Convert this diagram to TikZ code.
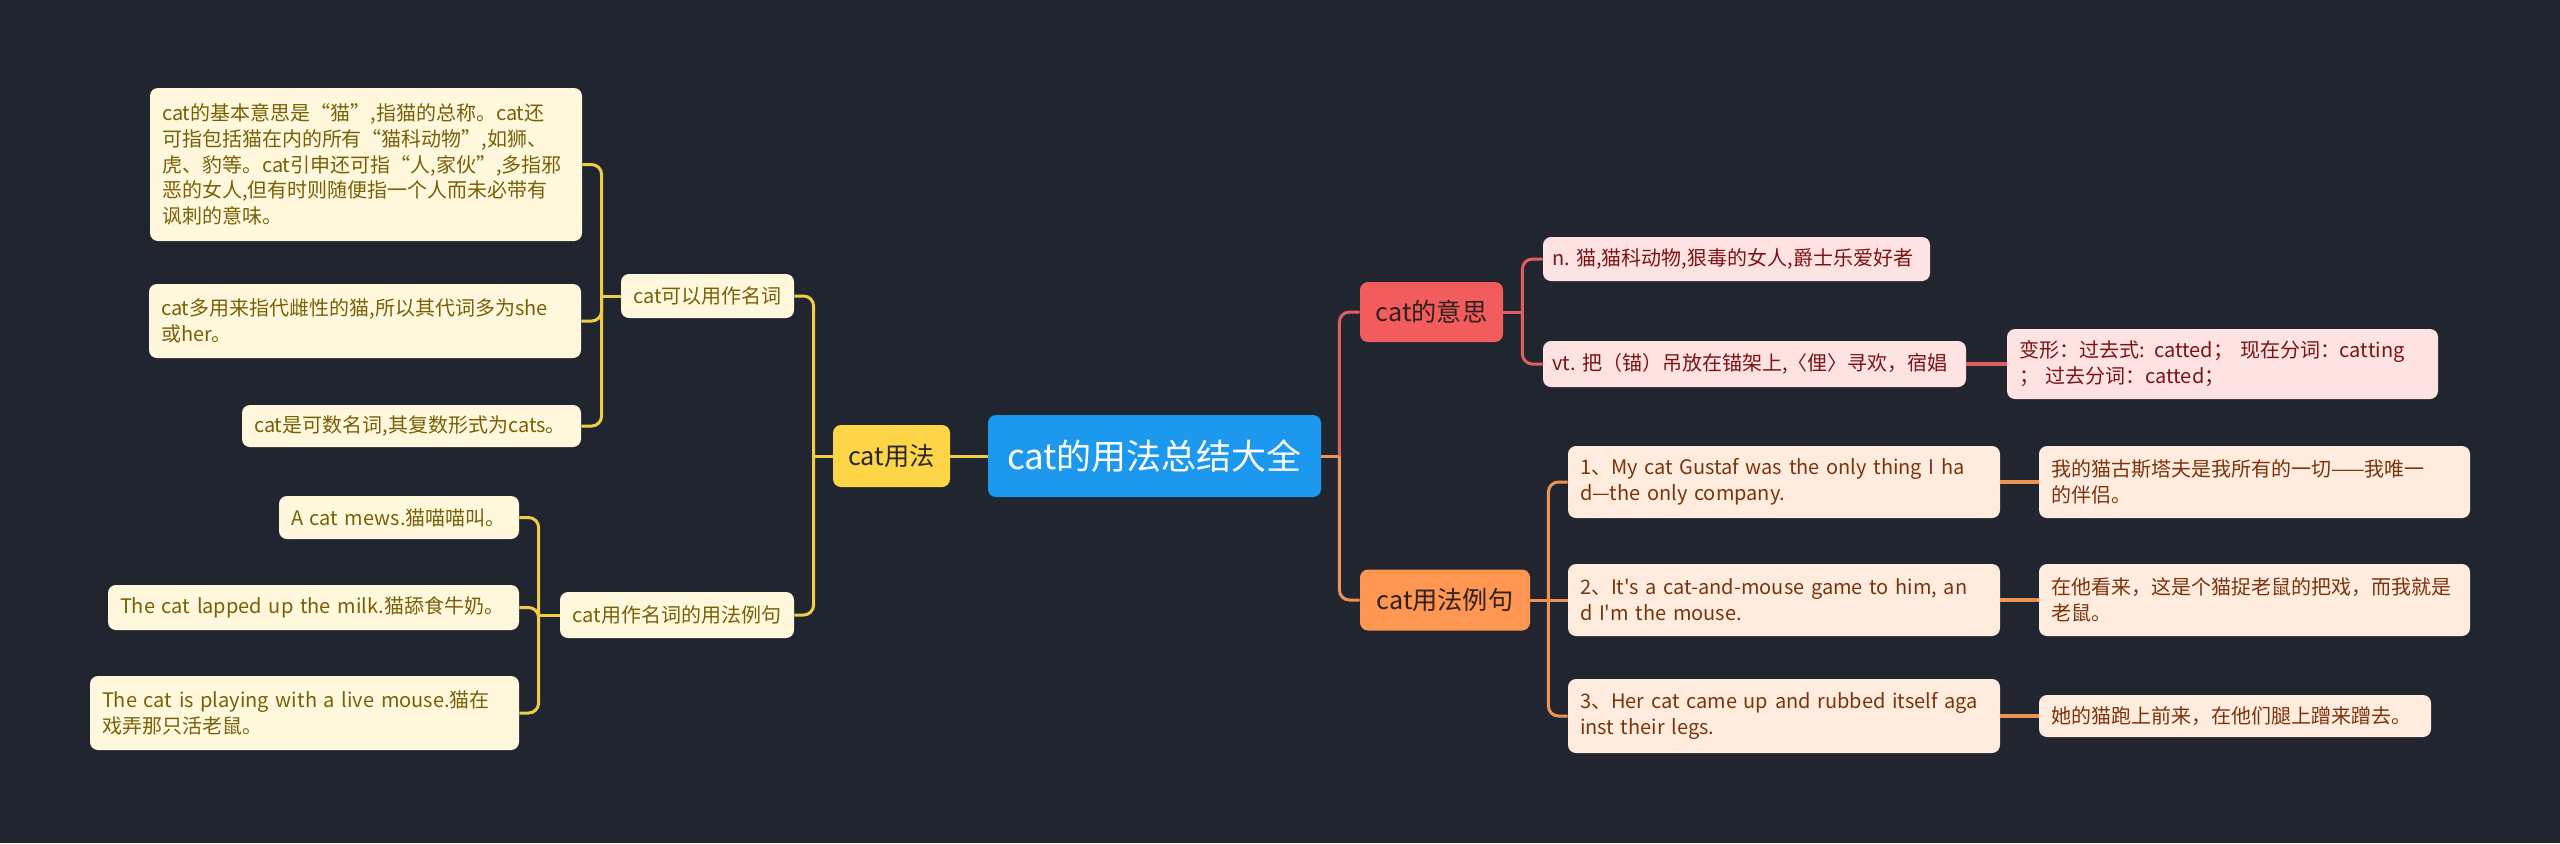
\documentclass[tikz,border=0pt]{standalone}
\usepackage{fontspec}
\newfontfamily\cjk{Noto Sans CJK SC}
\usetikzlibrary{calc}
\definecolor{bg}{RGB}{33,37,48}
\definecolor{rootfill}{RGB}{28,153,238}
\definecolor{yfill}{RGB}{255,213,72}
\definecolor{yleaf}{RGB}{255,248,221}
\definecolor{ytext}{RGB}{120,96,8}
\definecolor{yline}{RGB}{240,205,70}
\definecolor{rfill}{RGB}{242,92,92}
\definecolor{rleaf}{RGB}{255,226,226}
\definecolor{rtext}{RGB}{122,20,20}
\definecolor{rline}{RGB}{226,94,94}
\definecolor{ofill}{RGB}{255,150,82}
\definecolor{oleaf}{RGB}{255,236,222}
\definecolor{otext}{RGB}{122,52,12}
\definecolor{oline}{RGB}{238,148,82}
\definecolor{darktext}{RGB}{45,32,30}
\tikzset{
  box/.style={rounded corners=4pt, inner ysep=0pt, inner xsep=6pt, align=left,
    font=\cjk\fontsize{10}{12.9}\selectfont},
  cbox/.style={rounded corners=4pt, inner sep=0pt, align=center},
  leafY/.style={box, fill=yleaf, text=ytext},
  midY/.style={cbox, fill=yleaf, text=ytext, font=\cjk\fontsize{10}{12.9}\selectfont},
  leafR/.style={box, fill=rleaf, text=rtext},
  leafO/.style={box, fill=oleaf, text=otext},
  branch/.style={cbox, font=\cjk\fontsize{12.6}{15}\selectfont, text=darktext},
  lineY/.style={draw=yline, line width=1.5pt},
  lineR/.style={draw=rline, line width=1.5pt},
  lineO/.style={draw=oline, line width=1.5pt},
  thickR/.style={draw=rline, line width=2pt},
  thickO/.style={draw=oline, line width=2pt},
  elbow/.style={rounded corners=5pt}
}
\begin{document}
\begin{tikzpicture}[x=0.5pt,y=-0.5pt]
\fill[bg] (0,0) rectangle (2560,843);
\useasboundingbox (0,0) rectangle (2560,843);

% root and branches
\node[cbox, fill=rootfill, text=white, font=\cjk\fontsize{17.5}{20}\selectfont,
  minimum width=166.5pt, minimum height=41pt] (root) at (1154.5,456) {cat的用法总结大全};
\node[branch, fill=yfill, text=black!85, minimum width=58.5pt, minimum height=31pt] (cusage) at (891.5,456) {cat用法};
\node[branch, fill=rfill, minimum width=71.5pt, minimum height=30pt] (cmean) at (1431.5,312) {cat的意思};
\node[branch, fill=ofill, minimum width=85pt, minimum height=30.5pt] (cex) at (1445,600) {cat用法例句};

% left side
\node[midY, minimum width=86.5pt, minimum height=22pt] (noun) at (707.5,296) {cat可以用作名词};
\node[midY, minimum width=117pt, minimum height=23pt] (nounex) at (677,615) {cat用作名词的用法例句};

\node[leafY, text width=204pt, minimum height=76.5pt] (la) at (366,164.5)
  {cat的基本意思是“猫”,指猫的总称。cat还\\可指包括猫在内的所有“猫科动物”,如狮、\\虎、豹等。cat引申还可指“人,家伙”,多指邪\\恶的女人,但有时则随便指一个人而未必带有\\讽刺的意味。};
\node[leafY, text width=204pt, minimum height=37pt] (lb) at (365,321)
  {cat多用来指代雌性的猫,所以其代词多为she\\或her。};
\node[leafY, text width=157.5pt, minimum height=21pt] (lc) at (411.5,426)
  {cat是可数名词,其复数形式为cats。};

\node[leafY, text width=108pt, minimum height=21.5pt] (mews) at (399,517.5)
  {A cat mews.猫喵喵叫。};
\node[leafY, text width=193.5pt, minimum height=22.5pt] (lapped) at (313.5,607.5)
  {The cat lapped up the milk.猫舔食牛奶。};
\node[leafY, text width=202.5pt, minimum height=37pt] (playing) at (304.5,713)
  {The cat is playing with a live mouse.猫在\\戏弄那只活老鼠。};

% right side
\node[leafR, text width=184.5pt, inner xsep=4.5pt, minimum height=22pt] (nmean) at (1736.5,259)
  {\mbox{n.~猫,猫科动物,狠毒的女人,爵士乐爱好者}};
\node[leafR, text width=202.5pt, inner xsep=4.5pt, minimum height=23pt] (vtmean) at (1754.5,364)
  {\mbox{vt.~把（锚）吊放在锚架上,〈俚〉寻欢，宿娼}};
\node[leafR, text width=203.5pt, minimum height=35pt] (forms) at (2222.5,364)
  {变形：过去式: catted； 现在分词：catting\\； 过去分词：catted；};

\node[leafO, text width=204pt, minimum height=36pt] (e1) at (1784,482)
  {1、My cat Gustaf was the only thing I ha\\d—the only company.};
\node[leafO, text width=203.5pt, minimum height=36pt] (t1) at (2254.5,482)
  {我的猫古斯塔夫是我所有的一切——我唯一\\的伴侣。};
\node[leafO, text width=204pt, minimum height=36pt] (e2) at (1784,600)
  {2、It's a cat-and-mouse game to him, an\\d I'm the mouse.};
\node[leafO, text width=203.5pt, minimum height=36pt] (t2) at (2254.5,600)
  {在他看来，这是个猫捉老鼠的把戏，而我就是\\老鼠。};
\node[leafO, text width=204pt, minimum height=37pt] (e3) at (1784,716)
  {3、Her cat came up and rubbed itself aga\\inst their legs.};
\node[leafO, text width=184pt, minimum height=21pt] (t3) at (2235,716)
  {她的猫跑上前来，在他们腿上蹭来蹭去。};

% connectors left
\draw[lineY] (root.west) -- (cusage.east);
\coordinate (sU) at ($(cusage.west)+(-19,0)$);
\draw[lineY] (cusage.west) -- (sU);
\draw[lineY, elbow] (sU) |- (noun.east);
\draw[lineY, elbow] (sU) |- (nounex.east);

\coordinate (sN) at ($(noun.west)+(-19,0)$);
\draw[lineY] (noun.west) -- (sN);
\draw[lineY, elbow] (sN) |- (la.east);
\draw[lineY, elbow] (sN) |- (lb.east);
\draw[lineY, elbow] (sN) |- (lc.east);

\coordinate (sE) at ($(nounex.west)+(-21,0)$);
\draw[lineY] (nounex.west) -- (sE);
\draw[lineY, elbow] (sE) |- (mews.east);
\draw[lineY, elbow] (sE) |- (lapped.east);
\draw[lineY, elbow] (sE) |- (playing.east);

% connectors right
\coordinate (sR) at ($(root.east)+(18,0)$);
\draw[lineR, elbow] (sR) |- (cmean.west);
\draw[lineO] (root.east) -- (sR);
\draw[lineO, elbow] (sR) |- (cex.west);

\coordinate (sM) at ($(cmean.east)+(19,0)$);
\draw[lineR] (cmean.east) -- (sM);
\draw[lineR, elbow] (sM) |- (nmean.west);
\draw[lineR, elbow] (sM) |- (vtmean.west);
\draw[thickR] (vtmean.east) -- (forms.west);

\coordinate (sX) at ($(cex.east)+(18,0)$);
\draw[lineO] (cex.east) -- (sX);
\draw[lineO, elbow] (sX) |- (e1.west);
\draw[lineO] (sX) -- (e2.west);
\draw[lineO, elbow] (sX) |- (e3.west);
\draw[thickO] (e1.east) -- (t1.west);
\draw[thickO] (e2.east) -- (t2.west);
\draw[thickO] (e3.east) -- (t3.west);
\end{tikzpicture}
\end{document}
